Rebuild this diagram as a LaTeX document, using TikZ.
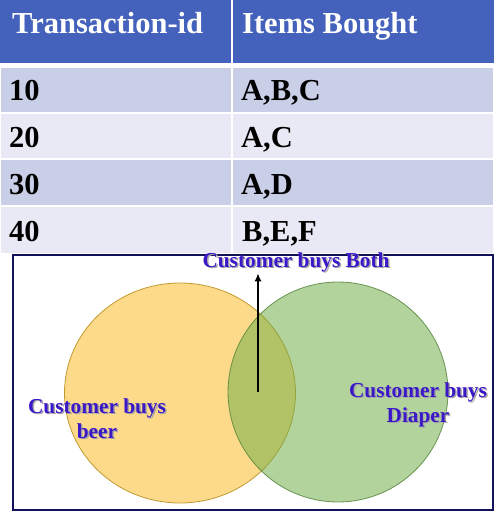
\documentclass[tikz,border=0pt]{standalone}
\usepackage{fontspec}
\setmainfont{Liberation Serif}
\usetikzlibrary{arrows.meta,shapes.geometric}

\definecolor{headblue}{HTML}{4462BB}
\definecolor{rowdark}{HTML}{CACFE8}
\definecolor{rowlight}{HTML}{E8E9F4}
\definecolor{labelblue}{HTML}{3A18C8}
\definecolor{framenavy}{HTML}{12125A}
\definecolor{beerfill}{HTML}{FDDA8A}
\definecolor{beeredge}{HTML}{C09A30}
\definecolor{diaperfill}{HTML}{70AD47}
\definecolor{diaperedge}{HTML}{4F7F35}

% blue bold caption with a soft grey drop shadow
\newcommand{\shadowlabel}[1]{%
  \makebox[0pt][l]{\raisebox{-1.5pt}{\hspace{1.5pt}\textcolor{black!35}{#1}}}%
  \textcolor{labelblue}{#1}}

\tikzset{
  cell/.style={draw=white, line width=2pt},
  headtext/.style={anchor=base west, inner sep=0pt, text=white,
    font=\fontsize{30.5}{33}\selectfont\bfseries},
  celltext/.style={anchor=base west, inner sep=0pt, text=black,
    font=\fontsize{30.5}{33}\selectfont\bfseries},
  venntext/.style={anchor=base, inner sep=0pt,
    font=\fontsize{21.3}{24}\selectfont\bfseries},
  setshape/.style={ellipse, inner sep=0pt, line width=0.8pt},
}

\begin{document}
\begin{tikzpicture}[x=1pt, y=-1pt]
\useasboundingbox (0,0) rectangle (494,514);

% ---- transaction table ----
\fill[headblue] (0,0) rectangle (494,64);
\draw[white, line width=2pt] (232,0) -- (232,64);
\fill[white] (0,63) rectangle (494,67);
\fill[cell, fill=rowdark]  (0,67)  rectangle (232,113);
\fill[cell, fill=rowdark]  (232,67) rectangle (494,113);
\fill[cell, fill=rowlight] (0,113) rectangle (232,159);
\fill[cell, fill=rowlight] (232,113) rectangle (494,159);
\fill[cell, fill=rowdark]  (0,159) rectangle (232,206);
\fill[cell, fill=rowdark]  (232,159) rectangle (494,206);
\fill[cell, fill=rowlight] (0,206) rectangle (232,254);
\fill[cell, fill=rowlight] (232,206) rectangle (494,254);
\foreach \y in {113,159,206} \draw[white, line width=2pt] (0,\y) -- (494,\y);
\draw[white, line width=2pt] (232,64) -- (232,254);

\node[headtext] (hid)   at (12,33)  {Transaction-id};
\node[headtext] (hitem) at (242,33) {Items Bought};
\node[celltext] (t10) at (9,100)  {10};
\node[celltext] (i10) at (241,100) {A,B,C};
\node[celltext] (t20) at (9,147)  {20};
\node[celltext] (i20) at (241,147) {A,C};
\node[celltext] (t30) at (9,194)  {30};
\node[celltext] (i30) at (241,194) {A,D};
\node[celltext] (t40) at (9,241)  {40};
\node[celltext] (i40) at (242,241) {B,E,F};

% ---- Venn diagram ----
\draw[framenavy, line width=1.2pt, fill=white] (13,255) rectangle (493,510);

\node[setshape, draw=beeredge, fill=beerfill, minimum width=231pt, minimum height=220pt]
  (beer) at (180,393) {};
\node[setshape, draw=diaperedge, draw opacity=0.8, fill=diaperfill, fill opacity=0.53,
  minimum width=220pt, minimum height=220pt]
  (diaper) at (338,392) {};

\node[venntext] (both) at (296,267) {\shadowlabel{Customer buys Both}};
\node[venntext] (beerA) at (97,413) {\shadowlabel{Customer buys}};
\node[venntext] (beerB) at (97,438) {\shadowlabel{beer}};
\node[venntext] (diaA) at (418,397) {\shadowlabel{Customer buys}};
\node[venntext] (diaB) at (418,422) {\shadowlabel{Diaper}};

\coordinate (overlap) at (258,392);
\draw[line width=2.2pt, -{Latex[length=8pt,width=7pt]}] (overlap) -- (overlap |- both.south);
\end{tikzpicture}
\end{document}
